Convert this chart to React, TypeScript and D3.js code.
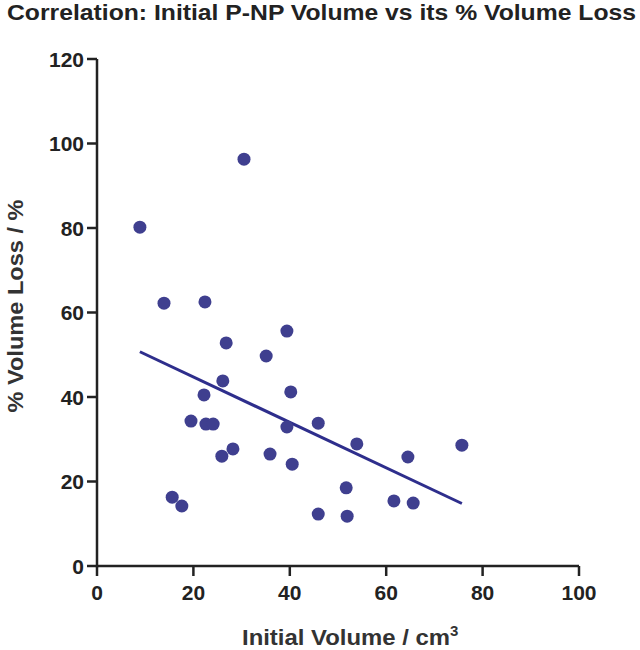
import React from "react";
import * as d3 from "d3";

const initialVolume = [8.9, 30.5, 13.9, 22.4, 26.8, 39.4, 35.1, 26.1, 22.2, 40.2, 19.5, 22.6, 24.1, 39.4, 45.9, 25.9, 28.2, 35.9, 40.5, 53.9, 64.5, 75.7, 15.6, 17.6, 51.7, 45.9, 51.9, 61.6, 65.6];
const volumeLoss = [80.2, 96.3, 62.2, 62.5, 52.8, 55.6, 49.7, 43.8, 40.5, 41.2, 34.3, 33.6, 33.6, 32.9, 33.8, 26.0, 27.7, 26.5, 24.1, 28.9, 25.8, 28.6, 16.3, 14.2, 18.5, 12.3, 11.8, 15.4, 14.9];
const xTicks = [0, 20, 40, 60, 80, 100];
const yTicks = [0, 20, 40, 60, 80, 100, 120];

export default function App() {
  const W = 640, H = 650;
  const x = d3.scaleLinear().domain([0, 100]).range([97, 579]);
  const y = d3.scaleLinear().domain([0, 120]).range([566, 59]);
  const pts = initialVolume.map((v, i) => [v, volumeLoss[i]] as [number, number]);
  const mx = d3.mean(initialVolume)!;
  const my = d3.mean(volumeLoss)!;
  const sxy = d3.sum(pts, (p) => (p[0] - mx) * (p[1] - my));
  const sxx = d3.sum(pts, (p) => (p[0] - mx) ** 2);
  const slope = sxy / sxx;
  const intercept = my - slope * mx;
  const [x0, x1] = d3.extent(initialVolume) as [number, number];
  const line = d3.line<number>().x((d) => x(d)).y((d) => y(intercept + slope * d));
  const font = "'Liberation Sans', Arial, sans-serif";
  const axisColor = "#222";
  return (
    <div style={{ position: "absolute", left: 0, top: 0 }}>
      <svg width={W} height={H} style={{ display: "block", background: "#fff" }} fontFamily={font}>
        <text x={7} y={20} fontSize={22} fontWeight="bold" fill="#222" textLength={629} lengthAdjust="spacingAndGlyphs">
          Correlation: Initial P-NP Volume vs its % Volume Loss
        </text>
        {/* axes */}
        <line x1={x(0)} x2={x(100)} y1={y(0)} y2={y(0)} stroke={axisColor} strokeWidth={2.5} />
        <line x1={x(0)} x2={x(0)} y1={y(0) + 1.25} y2={y(120)} stroke={axisColor} strokeWidth={2.5} />
        {xTicks.map((t) => (
          <g key={"x" + t}>
            <line x1={x(t)} x2={x(t)} y1={y(0)} y2={y(0) + 10} stroke={axisColor} strokeWidth={2.5} />
            <text x={x(t)} y={600} textAnchor="middle" fontSize={21} fontWeight="bold" fill="#222">
              {t}
            </text>
          </g>
        ))}
        {yTicks.map((t) => (
          <g key={"y" + t}>
            <line x1={x(0) - 10} x2={x(0)} y1={y(t)} y2={y(t)} stroke={axisColor} strokeWidth={2.5} />
            <text x={x(0) - 13} y={y(t)} dy="0.36em" textAnchor="end" fontSize={21} fontWeight="bold" fill="#222">
              {t}
            </text>
          </g>
        ))}
        <text x={242} y={645} fontSize={22} fontWeight="bold" fill="#333">
          <tspan textLength={208} lengthAdjust="spacingAndGlyphs">Initial Volume / cm</tspan>
          <tspan dy={-9} fontSize={15}>3</tspan>
        </text>
        <text transform={`translate(23,306) rotate(-90)`} textAnchor="middle" fontSize={22} fontWeight="bold" fill="#333" textLength={213} lengthAdjust="spacingAndGlyphs">
          % Volume Loss / %
        </text>
        <path d={line([x0, x1]) || ""} stroke="#2e2e8c" strokeWidth={3} fill="none" />
        {pts.map((p, i) => (
          <circle key={i} cx={x(p[0])} cy={y(p[1])} r={6.5} fill="#3f3f8f" />
        ))}
      </svg>
    </div>
  );
}
